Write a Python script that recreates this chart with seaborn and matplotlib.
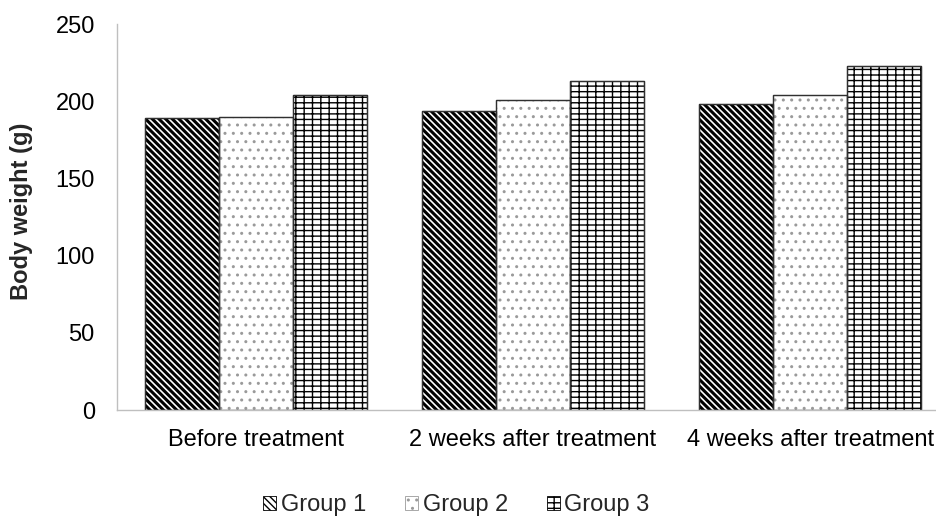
import matplotlib
matplotlib.use("Agg")
import matplotlib.pyplot as plt
from matplotlib.patches import Patch, Rectangle
import pandas as pd
import seaborn as sns

# values
timepoints = ["Before treatment", "2 weeks after treatment", "4 weeks after treatment"]
groups = ["Group 1", "Group 2", "Group 3"]
group1 = [189, 194, 198]
group2 = [190, 201, 204]
group3 = [204, 213, 223]
y_ticks = [0, 50, 100, 150, 200, 250]

hatches = ["\\\\\\\\\\", "..", "++-"]
hatch_colors = ["black", "#9a9a9a", "black"]
hatch_widths = [2.2, 1.0, 1.0]

df = pd.DataFrame({
    "time": timepoints * 3,
    "group": [g for g in groups for _ in timepoints],
    "weight": group1 + group2 + group3,
})

sns.set_theme(style="white")
plt.rcParams["font.family"] = ["Liberation Sans", "DejaVu Sans"]

fig = plt.figure(figsize=(9.37, 5.2), dpi=100)
ax = fig.add_axes([0.1249, 0.2115, 0.888, 0.742])

sns.barplot(data=df, x="time", y="weight", hue="group", order=timepoints,
            hue_order=groups, width=0.8, palette=["white"] * 3,
            edgecolor="black", linewidth=0.8, saturation=1, legend=False, ax=ax)

for cont, h, hc, hw in zip(ax.containers, hatches, hatch_colors, hatch_widths):
    for bar in cont:
        bar.set_hatch(h)
        bar.set_edgecolor(hc)
        if hasattr(bar, "set_hatch_linewidth"):
            bar.set_hatch_linewidth(hw)
        # dark outline on top so a light hatch keeps a dark border
        ax.add_patch(Rectangle(bar.get_xy(), bar.get_width(), bar.get_height(),
                               fill=False, edgecolor="#303030", linewidth=1.0))

ax.set_ylim(0, 250)
ax.set_yticks(y_ticks)
ax.set_xlim(-0.5, 2.5)
ax.set_xlabel("")
ax.set_ylabel("Body weight (g)", fontsize=17, fontweight="bold")
ax.yaxis.set_label_coords(-0.101, 0.515)
ax.tick_params(axis="both", length=0, labelsize=17, colors="black")
ax.tick_params(axis="x", pad=14)
ax.tick_params(axis="y", pad=16)

for side in ["top", "right"]:
    ax.spines[side].set_visible(False)
for side in ["left", "bottom"]:
    ax.spines[side].set_color("#bfbfbf")
    ax.spines[side].set_linewidth(1)

handles = []
for h, hc in zip(hatches, hatch_colors):
    p = Patch(facecolor="white", edgecolor=hc, hatch=h, linewidth=0.6)
    if hasattr(p, "set_hatch_linewidth"):
        p.set_hatch_linewidth(0.8)
    handles.append(p)
fig.legend(handles, groups, loc="center", bbox_to_anchor=(0.487, 0.028), ncol=3,
           frameon=False, fontsize=17, handlelength=0.55, handleheight=0.55,
           handletextpad=0.2, columnspacing=1.65)

fig.savefig("out.png", dpi=100)
